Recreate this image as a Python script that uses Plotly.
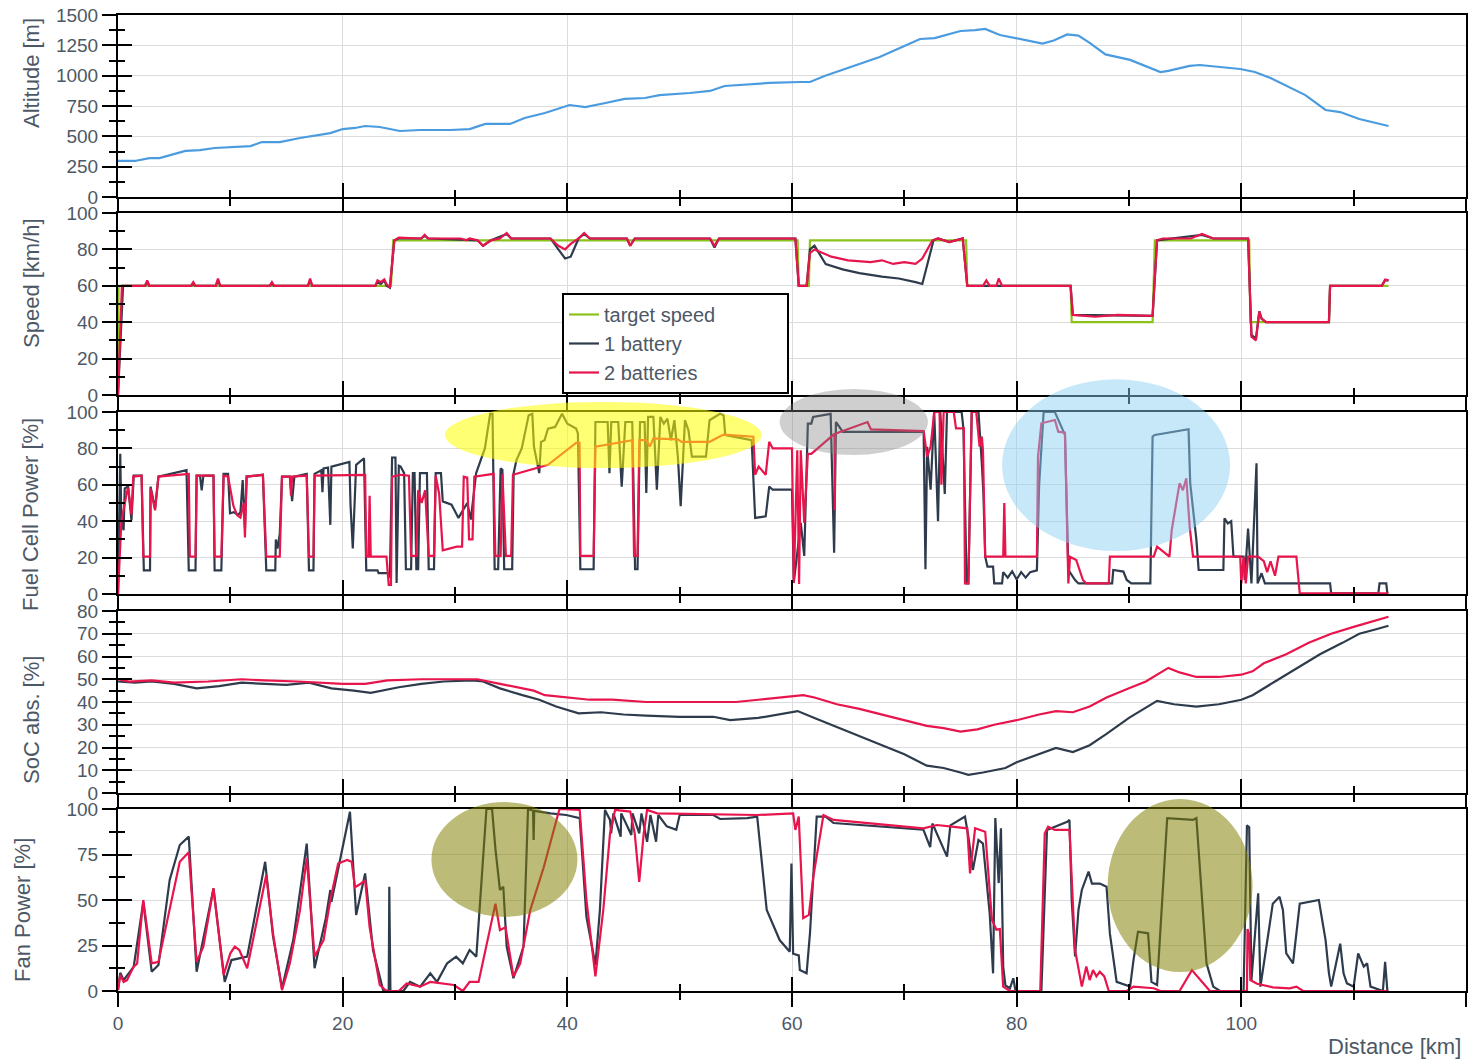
import plotly.graph_objects as go

# ---------------- data (distance km, value) ----------------
altitude = [(0, 297), (1.5, 297), (2.8, 321), (3.7, 321), (6.0, 380), (7.3, 387), (8.6, 404), (10.4, 412),
            (11.8, 420), (12.8, 453), (14.4, 453), (16.2, 486), (17.5, 503), (18.9, 527), (20.0, 560),
            (21.1, 569), (22.0, 585), (23.3, 577), (25.1, 544), (26.9, 552), (29.6, 552), (31.3, 560),
            (32.7, 602), (34.9, 602), (36.2, 651), (38.0, 692), (40.2, 758), (41.6, 741), (43.4, 775),
            (45.1, 808), (46.9, 816), (48.2, 840), (50.9, 857), (52.7, 874), (54.0, 915), (55.4, 923),
            (58.0, 940), (60.7, 948), (61.6, 948), (62.9, 997), (65.2, 1071), (67.8, 1154), (69.6, 1228),
            (71.4, 1302), (72.7, 1310), (73.6, 1335), (75.0, 1368), (76.3, 1376), (77.2, 1385), (78.5, 1335),
            (79.9, 1310), (81.0, 1290), (82.3, 1265), (83.3, 1290), (84.5, 1340), (85.5, 1330), (86.5, 1270),
            (87.9, 1175), (90.1, 1130), (92.8, 1030), (93.5, 1040), (95.4, 1080), (96.3, 1088), (99.9, 1055),
            (101.2, 1030), (102.6, 980), (104.3, 900), (105.7, 840), (107.5, 717), (108.8, 700), (110.5, 643),
            (111.9, 610), (113.1, 585)]

target_speed = [(0, 0), (0.05, 60), (24.3, 60), (24.5, 85), (60.5, 85), (60.6, 60), (61.5, 60), (61.6, 85),
                (75.5, 85), (75.6, 60), (84.8, 60), (84.9, 40), (92.1, 40), (92.3, 85), (100.7, 85), (100.8, 40),
                (107.8, 40), (107.9, 60), (113.1, 60)]

speed_1bat = [(0, 0), (0.45, 60), (2.4, 60), (2.6, 62), (2.8, 60), (6.5, 60), (6.7, 61), (6.9, 60), (8.7, 60),
              (8.9, 63), (9.1, 60), (13.5, 60), (13.7, 61), (13.9, 60), (16.9, 60), (17.1, 63), (17.3, 60),
              (22.9, 60), (23.1, 62), (23.4, 61), (23.7, 63), (23.9, 60), (24.2, 59), (24.6, 85), (25.0, 86),
              (27.0, 86), (27.3, 87.5), (27.6, 86), (32.0, 85), (32.5, 82), (33.2, 85), (34.6, 88.5), (35.0, 86),
              (38.5, 86), (39.2, 80), (39.8, 75), (40.3, 76), (41.0, 86), (41.5, 88.5), (42.0, 86), (45.3, 86),
              (45.6, 82), (46.0, 86), (52.7, 86), (53.1, 81), (53.5, 86), (60.3, 86), (60.6, 60), (61.3, 60),
              (61.6, 80), (62.0, 82), (63.0, 72), (64.5, 69), (66.0, 67), (68.0, 65), (69.5, 64), (71.0, 62),
              (71.6, 61), (72.6, 85), (73.0, 86), (74.0, 84), (75.2, 86), (75.6, 60), (84.8, 60), (85.0, 44),
              (92.1, 43.5), (92.5, 85), (96.5, 88), (97.5, 86), (100.6, 86), (100.9, 33), (101.3, 31),
              (101.6, 46), (101.8, 42), (102.2, 40), (107.8, 40), (107.9, 60), (112.5, 60), (112.8, 63),
              (113.1, 63)]

speed_2bat = [(0, 0), (0.35, 60), (2.4, 60), (2.6, 63), (2.8, 60), (6.5, 60), (6.7, 62), (6.9, 60), (8.7, 60),
              (8.9, 64), (9.1, 60), (13.5, 60), (13.7, 62), (13.9, 60), (16.9, 60), (17.1, 64), (17.3, 60),
              (22.9, 60), (23.1, 63), (23.4, 62), (23.7, 63.5), (23.9, 61), (24.2, 59), (24.6, 85), (25.0, 86.5),
              (27.0, 86), (27.3, 88), (27.6, 86), (30.5, 86), (31.0, 85), (31.3, 86), (32.0, 85), (32.5, 82),
              (33.2, 85), (34.0, 86), (34.6, 89), (35.0, 86), (36.5, 86), (38.5, 86), (39.2, 82), (39.8, 80),
              (40.3, 83), (41.0, 86), (41.5, 89), (42.0, 86), (45.3, 86), (45.6, 82), (46.0, 86), (52.7, 86),
              (53.1, 82), (53.5, 86), (60.3, 86), (60.6, 60), (61.3, 60), (61.6, 78), (62.0, 80), (63.5, 76),
              (65.0, 74), (67.0, 73), (68.0, 74), (69.0, 72), (70.0, 73), (71.0, 72), (71.6, 75), (72.5, 85),
              (73.0, 86), (74.0, 84), (75.2, 86), (75.6, 60), (77.0, 60), (77.3, 63), (77.6, 60), (78.2, 60),
              (78.4, 64), (78.7, 60), (84.8, 60), (85.0, 44), (87.0, 43), (89.0, 44), (92.1, 43.5), (92.5, 85),
              (93.0, 86), (95.5, 86), (96.5, 88.5), (97.5, 86), (100.6, 86), (100.9, 32), (101.3, 30),
              (101.6, 46), (101.8, 42), (102.2, 40), (107.8, 40), (107.9, 60), (112.5, 60), (112.8, 63.5),
              (113.1, 63)]

fc_1bat = [(0, 0), (0.2, 77), (0.3, 40), (0.5, 35), (0.6, 58), (0.9, 59), (1.2, 40.5), (1.4, 65), (2.1, 65),
           (2.3, 13), (2.85, 13), (2.9, 59), (3.3, 47), (3.6, 64.5), (6.1, 68), (6.3, 13), (6.9, 13), (7.0, 65),
           (7.3, 65), (7.45, 57), (7.6, 65), (8.5, 65), (8.6, 13), (9.2, 13), (9.4, 66), (9.8, 66), (9.97, 44.4),
           (10.3, 45), (10.7, 43.4), (10.9, 45), (11.1, 62.6), (11.3, 36), (11.45, 64.5), (12.9, 65.5),
           (13.2, 13), (14.0, 13), (14.05, 30), (14.2, 25), (14.4, 33), (14.6, 64.5), (15.3, 64.5), (15.5, 51),
           (15.7, 64.5), (16.8, 66), (17.0, 13), (17.4, 13), (17.5, 66), (18.1, 68), (18.2, 56), (18.3, 69),
           (18.7, 69.5), (18.9, 38), (19.0, 70), (20.6, 72.6), (20.7, 49), (20.9, 25), (21.2, 71), (21.9, 74.6),
           (22.1, 13), (23.1, 13), (23.2, 11.5), (24.1, 11.5), (24.2, 9), (24.4, 75), (24.7, 75), (24.8, 6),
           (25.0, 70.5), (25.16, 70), (25.47, 66.4), (25.63, 13.6), (26.09, 13.6), (26.25, 66.4), (26.4, 66.4),
           (26.56, 13.6), (26.72, 13.6), (26.88, 66.4), (27.5, 66.4), (27.66, 13.6), (28.13, 13.6),
           (28.28, 66.4), (28.75, 66.4), (28.91, 50.9), (29.69, 49.1), (30.31, 41.8), (31.09, 50),
           (31.41, 40.9), (31.88, 66.4), (32.66, 80), (33.13, 99), (33.34, 99), (33.53, 13.6), (33.84, 13.6),
           (34.06, 69), (34.22, 68.2), (34.38, 13.6), (35.09, 13.6), (35.22, 66.4), (35.47, 73.6), (35.94, 80),
           (36.56, 98.2), (36.88, 99), (37.03, 80.9), (37.5, 66.4), (37.66, 83.6), (37.97, 84.5), (38.28, 90.9),
           (38.91, 91.8), (39.53, 99), (40.0, 93.6), (40.78, 90.9), (40.94, 88.2), (41.16, 13.6), (42.34, 13.6),
           (42.5, 94.5), (43.59, 94.5), (43.75, 66.4), (43.91, 94.5), (44.53, 94.5), (44.84, 59), (45.16, 94.5),
           (45.78, 94.5), (46.03, 13.6), (46.25, 13.6), (46.47, 94.5), (46.88, 94.5), (47.03, 55.5),
           (47.19, 97.3), (47.66, 97.3), (47.97, 57.3), (48.28, 97.3), (48.59, 93.6), (48.91, 96.4),
           (49.22, 84.5), (49.53, 95.5), (49.84, 75.5), (50.09, 48.2), (50.47, 95.5), (50.78, 90), (51.09, 75.5),
           (52.34, 75.5), (52.66, 95.5), (53.59, 99), (53.91, 98.2), (54.06, 87.3), (56.41, 84.5), (56.72, 41.8),
           (57.66, 42.7), (57.97, 59), (58.28, 57.3), (60.0, 57.3), (60.16, 6.4), (60.47, 24.5), (60.78, 39.1),
           (61.09, 20.9), (61.41, 93.6), (61.72, 93.6), (61.88, 97.3), (63.44, 99), (63.75, 22.7), (63.91, 94.5),
           (64.53, 89.1), (71.72, 89.1), (71.88, 13.6), (72.03, 80.9), (72.34, 57.3), (72.66, 100), (73.0, 40),
           (73.2, 100), (73.6, 55), (73.8, 100), (75.1, 100), (75.26, 91), (75.4, 55.3), (75.55, 5.8),
           (75.7, 5.8), (76.0, 100), (76.6, 100), (76.74, 88.3), (76.9, 71.8), (77.04, 55), (77.2, 20.5),
           (77.4, 15), (77.9, 15), (78.0, 5.8), (78.7, 5.8), (78.8, 12), (79.2, 9), (79.6, 12.5), (80.0, 8),
           (80.4, 12), (80.8, 9), (81.2, 12), (81.8, 13), (82.0, 60), (82.4, 100), (83.4, 100), (84.3, 87.4),
           (84.6, 13.2), (85.2, 7.7), (85.5, 5.8), (88.5, 5.8), (88.6, 13.2), (89.5, 12.3), (89.8, 7.7),
           (90.2, 5.8), (91.9, 5.8), (92.1, 86.5), (92.3, 87.4), (93.1, 88.3), (95.3, 90.5), (95.45, 60.8),
           (96.0, 29.7), (96.2, 13.2), (98.4, 13.2), (98.5, 41.6), (98.8, 38.8), (99.1, 40), (99.3, 20.5),
           (100.2, 20.5), (100.3, 7.7), (100.6, 36), (100.9, 5.8), (101.35, 71.8), (101.45, 5.8), (101.8, 11.4),
           (102.1, 5.8), (107.9, 5.8), (108.0, 0.4), (112.2, 0.4), (112.3, 5.8), (112.9, 5.8), (113.0, 0.4)]

fc_2bat = [(0, 0), (0.3, 40), (0.8, 56), (0.9, 58.5), (1.2, 43.6), (1.36, 64.5), (2.1, 65), (2.25, 20.5),
           (2.85, 20.5), (2.9, 58), (3.3, 46), (3.6, 64.5), (6.3, 66), (6.4, 20.5), (6.9, 20.5), (7.0, 65),
           (8.5, 65), (8.6, 20.5), (9.2, 20.5), (9.4, 65), (9.8, 64.5), (10.1, 54), (10.27, 48.5), (10.6, 43.4),
           (10.9, 42), (11.2, 50), (11.3, 31), (11.45, 64.5), (12.9, 65.5), (13.2, 20.5), (14.4, 20.5),
           (14.6, 64.5), (15.3, 64.5), (15.4, 54), (15.5, 64.5), (16.8, 65), (17.0, 20.5), (17.4, 20.5),
           (17.5, 65), (22.0, 65.5), (22.1, 20.5), (22.3, 20.5), (22.4, 54), (22.5, 20.5), (23.9, 20.5),
           (24.1, 5), (24.3, 5), (24.4, 64.5), (25.2, 65.5), (25.9, 65), (26.09, 21), (26.56, 21), (26.72, 57),
           (27.03, 50), (27.34, 57), (27.66, 21), (28.13, 21), (28.28, 65), (28.59, 55), (28.91, 24),
           (30.16, 26), (30.63, 26), (30.78, 64.5), (31.09, 64), (31.25, 30), (31.56, 30), (31.72, 64.5),
           (33.44, 66), (33.59, 21), (34.06, 21), (34.22, 66), (34.53, 21), (35.0, 21), (35.16, 65.5),
           (37.03, 69), (38.28, 71), (40.78, 83), (41.09, 83), (41.16, 21), (42.34, 21), (42.5, 81),
           (45.16, 83.6), (45.78, 84.5), (45.94, 21), (46.25, 21), (46.41, 84.5), (47.03, 84.5), (47.34, 81),
           (47.66, 85.5), (49.84, 85), (50.16, 83.6), (52.66, 83.6), (53.91, 87.6), (56.56, 86.4), (56.72, 65.5),
           (57.03, 70), (57.66, 65.5), (57.97, 83.6), (58.28, 80), (60.0, 80), (60.16, 6), (60.47, 79),
           (60.63, 5.5), (60.78, 79), (61.09, 39), (61.41, 77), (61.72, 77), (63.78, 88), (63.81, 46),
           (63.84, 88), (66.72, 94.5), (67.03, 90.4), (71.72, 89.5), (72.03, 75.5), (72.34, 81), (72.66, 100),
           (73.13, 100), (73.3, 60), (73.5, 100), (74.4, 100), (74.6, 91), (75.3, 91), (75.4, 5.8), (75.7, 5.8),
           (76.0, 100), (76.4, 100), (76.7, 81), (76.9, 86.5), (77.0, 79), (77.2, 20.5), (78.8, 20.5),
           (78.9, 50), (79.0, 20.5), (81.8, 20.5), (81.9, 75.5), (82.2, 93.8), (83.4, 95.6), (83.7, 89.2),
           (84.3, 88.6), (84.6, 5.8), (84.75, 20.5), (85.3, 18.7), (85.9, 7.7), (86.2, 5.8), (88.2, 5.8),
           (88.3, 20.5), (92.2, 20.5), (92.5, 26), (93.6, 20.5), (93.8, 35), (94.5, 60.8), (94.8, 57),
           (95.1, 63.6), (95.4, 37), (95.7, 20.5), (99.9, 20.5), (100.0, 5.8), (100.2, 20.5), (100.4, 5.8),
           (100.6, 20.5), (101.5, 20.5), (102.0, 18), (102.3, 12), (102.6, 18), (103.0, 10), (103.3, 20.5),
           (104.9, 20.5), (105.2, 0.4), (113.1, 0.4)]

soc_1bat = [(0, 49), (1.5, 48.5), (3, 49), (5, 48), (7, 46), (9, 47), (11, 48.5), (13, 48), (15, 47.5),
            (17, 48.5), (19, 46), (21, 45), (22.5, 44), (25, 46.5), (27, 48), (29, 49), (31.5, 49.5), (32.5, 49),
            (34, 46), (36, 43), (37.5, 41), (39, 38), (41, 35), (43, 35.5), (45, 34.5), (47, 34), (50, 33.5),
            (53, 33.5), (54.5, 32), (57, 33), (60.5, 36), (62, 33), (64, 29), (66, 25), (68, 21), (70, 17),
            (72, 12), (73.5, 11), (75, 9), (75.7, 8), (77, 9), (79, 11), (80, 13.5), (82, 17), (83.5, 19.8),
            (85, 18), (86.5, 21), (88, 26), (90, 33), (92.5, 40.5), (94, 39), (96, 38), (98, 39), (100, 41),
            (101, 43), (103, 49), (105, 55), (107, 61), (109, 66), (110.5, 70), (112, 72), (113.1, 73.5)]

soc_2bat = [(0, 50), (1, 49), (3, 49.5), (5, 48.5), (8, 49), (11, 50), (13, 49.5), (16, 49), (20, 48), (22, 48),
            (24, 49.5), (27, 50), (30, 50), (32, 50), (34, 48), (35, 47), (37, 45), (38, 43), (40, 42), (42, 41),
            (44, 41), (47, 40), (50, 40), (53, 40), (55, 40), (57, 41), (59, 42), (61, 43), (62, 42), (64, 39),
            (66, 37), (68, 34.5), (70, 32), (72, 29.5), (73.5, 28.5), (75, 27), (76.5, 28), (78, 30), (80, 32),
            (82, 34.5), (83.5, 36), (85, 35.5), (86.5, 38), (88, 42), (90, 46), (91.5, 49), (93.5, 55),
            (94.5, 53), (96, 51), (98, 51), (100, 52), (101, 53.5), (102, 57), (104, 61), (106, 66), (108, 70),
            (110, 73), (112, 76), (113.1, 77.5)]

fan_1bat = [(0, 0.5), (0.2, 10), (0.5, 6), (1.4, 13.4), (2.25, 49), (3.0, 10.6), (3.6, 14.3), (4.6, 61),
            (5.5, 80.2), (6.3, 84.8), (7.0, 10.6), (8.5, 56.4), (9.5, 5), (10.1, 17), (11.5, 18.9), (13.1, 71),
            (13.8, 30), (14.6, 1.5), (15.6, 28), (16.8, 81), (17.5, 12.5), (18.5, 40), (18.9, 55.5), (19.0, 49),
            (20.65, 98.5), (21.2, 41.8), (22.0, 64.6), (22.7, 22.5), (23.6, 0.5), (24.1, 0), (24.15, 57.3),
            (24.25, 0), (25.4, 0), (26.0, 5), (26.9, 2.4), (27.8, 9.7), (28.4, 5), (29.3, 15.2), (30.1, 18.9),
            (30.7, 15.2), (31.3, 22.5), (31.9, 18.9), (32.8, 100), (33.3, 100), (33.6, 78), (34.0, 55.5),
            (34.3, 57.3), (34.6, 24.4), (35.2, 7), (36.1, 24.4), (36.5, 100), (36.95, 99), (37.0, 83),
            (37.05, 99), (38.5, 97.6), (39.9, 96.7), (41.1, 95), (41.7, 40.8), (42.5, 14.3), (42.9, 44.5),
            (43.35, 99.5), (43.8, 94), (43.9, 86.6), (44.1, 97.6), (44.75, 84.8), (44.8, 97.6), (45.7, 85.7),
            (45.8, 97.6), (46.4, 86.6), (46.6, 97.6), (47.1, 82), (47.4, 96.7), (47.9, 82), (48.1, 96.7),
            (48.85, 90.5), (49.7, 88.6), (50.0, 96.7), (53.0, 96.7), (53.6, 94.5), (56.0, 95), (56.9, 95.8),
            (57.75, 44.5), (58.9, 28), (59.8, 21.6), (59.95, 70), (60.1, 20.5), (60.6, 19.6), (60.7, 11.5),
            (61.3, 9.7), (61.6, 31.7), (62.2, 95.8), (63.0, 95.8), (63.7, 92.3), (71.7, 88.6), (72.3, 79),
            (72.5, 92), (73.8, 73.8), (74.1, 91), (75.4, 95.8), (75.7, 84.8), (76.1, 66.5), (76.6, 83),
            (77.0, 81), (77.6, 42.5), (77.9, 9.7), (78.1, 95), (78.4, 59.3), (78.6, 89.4), (78.8, 13.4),
            (79.0, 3), (79.4, 1.5), (79.7, 7), (79.9, 0), (82.2, 0), (82.7, 88.5), (84.5, 93), (84.7, 94),
            (84.9, 50), (85.2, 19), (85.5, 44.5), (85.8, 55.5), (86.4, 65.6), (86.7, 59), (87.4, 59),
            (88.0, 57.3), (88.3, 31.5), (88.9, 5), (90.1, 2.4), (90.4, 17), (90.8, 32.6), (91.7, 31.7),
            (92.0, 5), (92.5, 3.3), (93.4, 95), (95.7, 94), (96.0, 95), (96.9, 15.2), (97.5, 2.4), (98.1, 0),
            (100.2, 0), (100.5, 91), (100.7, 90), (100.9, 6), (101.5, 53.7), (101.7, 2.4), (102.3, 26),
            (102.8, 48), (103.4, 51.8), (103.7, 44.5), (104.0, 20.7), (104.6, 15.2), (105.2, 48), (106.9, 50),
            (107.5, 28), (107.8, 9.7), (108.0, 2.4), (108.8, 26), (109.1, 9.7), (109.4, 4.2), (110.0, 2.4),
            (110.4, 20.7), (110.9, 13.4), (111.2, 15.2), (111.5, 2.4), (112.6, 0), (112.8, 16), (113.0, 0)]

fan_2bat = [(0, 0.5), (0.2, 8.8), (0.5, 5), (0.8, 6), (1.4, 13.4), (1.7, 15), (2.25, 50), (3.0, 15.2),
            (3.6, 16), (4.8, 51.8), (5.5, 71), (6.3, 76.2), (7.0, 16), (7.6, 24.4), (8.5, 56.4), (9.4, 8.8),
            (10.0, 20.7), (10.4, 24.4), (10.8, 22.5), (11.5, 12.5), (12.3, 37.2), (13.2, 63.7), (13.8, 31.7),
            (14.6, 0.5), (15.3, 15.2), (16.2, 44.5), (16.8, 73), (17.5, 18.9), (18.3, 28), (18.9, 50), (19.6, 70),
            (20.4, 72), (20.8, 71), (21.1, 57), (21.5, 58.5), (22.0, 61), (22.4, 35), (23.3, 3.3), (23.9, 0),
            (25.0, 0), (25.7, 4.2), (26.9, 2.4), (27.8, 5), (29.0, 4.2), (29.9, 3.3), (30.7, 0), (31.3, 5),
            (32.1, 5), (32.8, 26), (33.6, 48), (34.0, 33.5), (34.5, 35), (35.2, 8), (35.8, 15), (36.7, 44.5),
            (37.9, 68), (39.3, 100), (41.1, 99.5), (41.7, 50), (42.5, 8), (43.2, 44.5), (43.8, 86.6),
            (44.25, 99.5), (45.6, 98.6), (46.0, 86.6), (46.4, 60), (46.8, 86.6), (47.1, 99.5), (48.0, 97.6),
            (56.9, 96.7), (60.1, 97.6), (60.3, 88.5), (60.6, 95.8), (61.0, 40), (61.5, 41.8), (61.9, 62.8),
            (62.8, 96.7), (63.7, 94), (71.7, 89.4), (72.9, 91.2), (75.6, 89.4), (75.85, 64.6), (76.3, 89.4),
            (76.7, 88.5), (77.2, 87.5), (77.8, 39), (78.2, 33.7), (78.5, 34), (78.8, 2.4), (79.4, 0), (82.1, 0),
            (82.5, 86.6), (82.8, 90.3), (83.4, 88.5), (84.7, 88.5), (85.2, 22.5), (85.8, 2.4), (86.2, 13.4),
            (86.5, 6), (86.8, 11.5), (87.1, 8), (87.4, 10.6), (87.8, 8), (88.2, 0), (89.8, 0), (90.4, 2.4),
            (92.2, 1.5), (92.8, 0), (94.5, 0), (95.6, 11.5), (97.2, 0), (100.5, 0), (100.55, 34), (100.7, 31),
            (100.8, 6), (101.4, 4), (102.8, 2), (104.3, 1.5), (104.9, 2.4), (105.5, 0), (113.1, 0)]

series_names = ["target speed", "1 battery", "2 batteries"]
y_titles = ["Altitude [m]", "Speed [km/h]", "Fuel Cell Power [%]", "SoC abs. [%]", "Fan Power [%]"]
x_title = "Distance [km]"

# ---------------- layout helpers ----------------
W, H = 1481, 1059
ML, MR, MT, MB = 118, 15, 15, 68
PW, PH = W - ML - MR, H - MT - MB
panel_tops = [15, 213, 412, 611, 809]
panel_h = 182
y_ranges = [[0, 1500], [0, 100], [0, 100], [0, 80], [0, 100]]
y_dticks = [250, 20, 20, 10, 25]
title_pos = [(31, 73), (31, 283), (30, 514), (31, 720), (22, 910)]

BLUE = "#4a9bdf"
GREEN = "#8cc21c"
DARK = "#2e3b4c"
RED = "#e8144c"
TXT = "#4d5866"
FONT = "Liberation Sans, Arial, sans-serif"
TICKFONT = dict(family=FONT, size=19, color=TXT)
NBSP = "\u00a0"


def nm(i):
    return "" if i == 1 else str(i)


def dom(top):
    return [(H - MB - (top + panel_h)) / PH, (H - MB - top) / PH]


fig = go.Figure()


def add_line(pairs, panel, color, name=None, legend=False, group=None, width=2.2):
    fig.add_trace(go.Scatter(
        x=[p[0] for p in pairs], y=[p[1] for p in pairs], mode="lines",
        line=dict(color=color, width=width), name=name, showlegend=legend,
        legendgroup=group, xaxis="x" + nm(panel), yaxis="y" + nm(panel), hoverinfo="skip"))


add_line(altitude, 1, BLUE)
add_line(target_speed, 2, GREEN, series_names[0] + NBSP * 12, True, "t")
add_line(speed_1bat, 2, DARK, series_names[1], True, "b1")
add_line(speed_2bat, 2, RED, series_names[2], True, "b2")
add_line(fc_1bat, 3, DARK, group="b1")
add_line(fc_2bat, 3, RED, group="b2")
add_line(soc_1bat, 4, DARK, group="b1")
add_line(soc_2bat, 4, RED, group="b2")
add_line(fan_1bat, 5, DARK, group="b1")
add_line(fan_2bat, 5, RED, group="b2")

layout = dict(width=W, height=H, margin=dict(l=ML, r=MR, t=MT, b=MB, autoexpand=False),
              paper_bgcolor="white", plot_bgcolor="white", showlegend=True)

tick_common = dict(tickwidth=2, tickcolor="black", zeroline=False, fixedrange=True, automargin=False)
for i in range(1, 6):
    d = dom(panel_tops[i - 1])
    yr = y_ranges[i - 1]
    dt = y_dticks[i - 1]
    layout["xaxis" + nm(i)] = dict(
        domain=[0, 1], anchor="y" + nm(i), range=[0, 120], tick0=0, dtick=20,
        showline=True, linecolor="black", linewidth=2, mirror=True,
        ticks="outside", ticklen=14, showgrid=True, gridcolor="#dcdcdc", gridwidth=1,
        showticklabels=(i == 5), tickfont=TICKFONT,
        minor=dict(tick0=0, dtick=10, ticks="outside", ticklen=7, tickwidth=2, tickcolor="black", showgrid=False),
        **tick_common)
    layout["yaxis" + nm(i)] = dict(
        domain=d, anchor="x" + nm(i), range=yr, tick0=0, dtick=dt,
        showline=True, linecolor="black", linewidth=2, mirror=True,
        ticks="outside", ticklen=14, showgrid=True, gridcolor="#dcdcdc", gridwidth=1,
        tickfont=TICKFONT,
        minor=dict(tick0=0, dtick=dt / 2, ticks="outside", ticklen=7, tickwidth=2, tickcolor="black", showgrid=False),
        **tick_common)
    # overlay axes: inner half of the crossing ticks
    j = i + 5
    layout["xaxis" + str(j)] = dict(
        overlaying="x" + nm(i), anchor="y" + str(j), range=[0, 120], tick0=0, dtick=20,
        showline=False, showgrid=False, showticklabels=False, ticks="inside", ticklen=14,
        minor=dict(tick0=0, dtick=10, ticks="inside", ticklen=7, tickwidth=2, tickcolor="black", showgrid=False),
        **tick_common)
    layout["yaxis" + str(j)] = dict(
        overlaying="y" + nm(i), anchor="x" + str(j), range=yr, tick0=0, dtick=dt,
        showline=False, showgrid=False, showticklabels=False, ticks="inside", ticklen=14,
        minor=dict(tick0=0, dtick=dt / 2, ticks="inside", ticklen=7, tickwidth=2, tickcolor="black", showgrid=False),
        **tick_common)
    fig.add_trace(go.Scatter(x=[0], y=[0], mode="markers", marker=dict(opacity=0, size=1),
                             showlegend=False, hoverinfo="skip", xaxis="x" + str(j), yaxis="y" + str(j)))

# axis titles as annotations
ann = []
for t, (px, py) in zip(y_titles, title_pos):
    ann.append(dict(text=t, x=(px - ML) / PW, y=(H - MB - py) / PH, xref="paper", yref="paper",
                    textangle=-90, showarrow=False, xanchor="center", yanchor="middle",
                    font=dict(family=FONT, size=22, color=TXT)))
ann.append(dict(text=x_title, x=(1463 - ML) / PW, y=(H - MB - 1046) / PH, xref="paper", yref="paper",
                showarrow=False, xanchor="right", yanchor="middle",
                font=dict(family=FONT, size=22, color=TXT)))
layout["annotations"] = ann

# highlight ellipses: (panel, km from, km to, value from, value to, colour)
highlights = [
    (3, 29.1, 57.3, 69.2, 105.5, "rgba(255,255,0,0.55)"),
    (3, 58.9, 72.1, 76.4, 112.6, "rgba(128,128,128,0.38)"),
    (3, 78.7, 99.0, 23.6, 118.0, "rgba(135,206,240,0.48)"),
    (5, 27.9, 40.9, 40.7, 103.8, "rgba(128,128,0,0.53)"),
    (5, 88.1, 101.0, 10.4, 105.5, "rgba(128,128,0,0.53)"),
]
shapes = []
for p, k0, k1, v0, v1, col in highlights:
    yr = y_ranges[p - 1]
    shapes.append(dict(type="circle", xref="x" + nm(p) + " domain", yref="y" + nm(p) + " domain",
                       x0=k0 / 120, x1=k1 / 120, y0=(v0 - yr[0]) / (yr[1] - yr[0]),
                       y1=(v1 - yr[0]) / (yr[1] - yr[0]), fillcolor=col, line=dict(width=0), layer="above"))
layout["shapes"] = shapes

layout["legend"] = dict(x=(562 - ML) / PW, y=(H - MB - 293) / PH, xanchor="left", yanchor="top",
                        bgcolor="white", bordercolor="black", borderwidth=2,
                        font=dict(family=FONT, size=20, color=TXT), tracegroupgap=0,
                        itemwidth=30)

fig.update_layout(**layout)
fig.write_html("out.html", config={"displayModeBar": False},
               post_script="document.body.style.margin='0px';document.body.style.overflow='hidden';")
